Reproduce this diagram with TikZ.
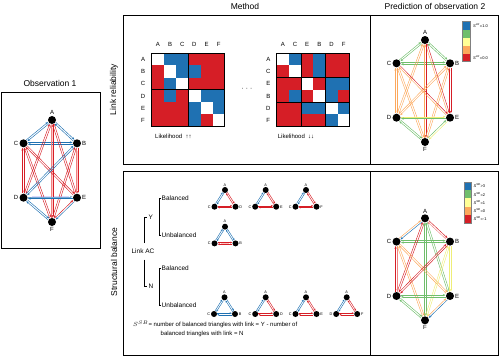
\documentclass[tikz,border=0pt]{standalone}
\usepackage{fontspec}
\setmainfont{Liberation Sans}
\usetikzlibrary{arrows.meta,calc}
\definecolor{cblue}{RGB}{31,113,178}
\definecolor{cred}{RGB}{214,30,38}
\definecolor{cgreen}{RGB}{112,190,108}
\definecolor{cyellow}{RGB}{238,238,120}
\definecolor{fyellow}{RGB}{255,255,150}
\definecolor{corange}{RGB}{252,168,92}
\definecolor{lred}{RGB}{240,130,130}
\definecolor{lblue}{RGB}{120,170,212}
\colorlet{mw}{white}
\colorlet{mb}{cblue}
\colorlet{mr}{cred}
\newcommand\eoff{0.9pt}
\newcommand\nsh{4.4pt}
\newcommand\biedge[4]{%
 \draw[arr,#3] ($(#1.center)!\eoff!90:(#2.center)$) -- ($(#2.center)!\eoff!-90:(#1.center)$);
 \draw[arr,#4] ($(#2.center)!\eoff!90:(#1.center)$) -- ($(#1.center)!\eoff!-90:(#2.center)$);}
\newcommand\graphnodes[3]{%
 \node[dot,label={[glab]above:A}] (#1A) at (#2,#3) {};
 \node[dot,label={[glab]left:C}] (#1C) at (#2-28.5,#3+23.3) {};
 \node[dot,label={[glab]right:B}] (#1B) at (#2+25,#3+23.3) {};
 \node[dot,label={[glab]left:D}] (#1D) at (#2-28.5,#3+77.7) {};
 \node[dot,label={[glab]right:E}] (#1E) at (#2+25,#3+77.7) {};
 \node[dot,label={[glab]below:F}] (#1F) at (#2,#3+102) {};}
\newcommand\trinodes[5]{%
 \node[tdot,label={[tlab]above:A}] (#1A) at (#2,#3) {};
 \node[tdot,label={[tlab]left:#4}] (#1L) at (#2-10.5,#3+16.7) {};
 \node[tdot,label={[tlab]right:#5}] (#1R) at (#2+10.5,#3+16.7) {};}
\newcommand\Sx[1]{{\itshape S}\textsuperscript{\itshape #1}}
\begin{document}
\begin{tikzpicture}[x=1pt,y=-1pt,
 arr/.style={-{Stealth[length=2.8pt,width=2.2pt]},line width=0.45pt,shorten >=\nsh,shorten <=\nsh},
 band/.style={line width=2.8pt,shorten >=4pt,shorten <=4pt},
 dot/.style={circle,fill=black,inner sep=0pt,minimum size=8pt},
 tdot/.style={circle,fill=black,inner sep=0pt,minimum size=6pt},
 glab/.style={font=\fontsize{6}{7}\selectfont,inner sep=0.8pt},
 tlab/.style={font=\fontsize{3.8}{4.5}\selectfont,inner sep=0.5pt},
 title/.style={font=\fontsize{8.5}{10}\selectfont,inner sep=0pt},
 txt/.style={font=\fontsize{6.5}{8}\selectfont,inner sep=0pt},
 mlab/.style={font=\fontsize{6}{7}\selectfont,inner sep=0pt},
 leg/.style={font=\fontsize{4}{5}\selectfont,inner sep=0pt,anchor=west},
 frame/.style={line width=0.9pt},
 brk/.style={line width=0.5pt}]
\useasboundingbox (0,0) rectangle (500,358);
% titles
\node[title] (method) at (245,6) {Method};
\node[title] (pred) at (435,6) {Prediction of observation 2};
\node[title] (obs) at (50,83) {Observation 1};
\node[title,rotate=90] (lr) at (114,89.5) {Link reliability};
\node[title,rotate=90] (sb) at (114,262) {Structural balance};
% frames
\draw[frame] (1.5,92) rectangle (100,248);
\draw[frame] (123,15) rectangle (498,164);
\draw[frame] (370,15) -- (370,164);
\draw[frame] (123,171) rectangle (498,355);
\draw[frame] (370,171) -- (370,355);
% ---------- Observation 1 graph
\begin{scope}
\graphnodes{o}{52}{120}
\draw[band,red!22] (oA) -- (oF);
\draw[band,red!22] (oB) -- (oE);
\draw[band,blue!15] (oD) -- (oE);
\biedge{oA}{oC}{cblue}{cblue}
\biedge{oA}{oB}{cblue}{cblue}
\biedge{oC}{oB}{cblue}{cblue}
\biedge{oA}{oD}{cred}{cred}
\biedge{oA}{oE}{cred}{cred}
\biedge{oA}{oF}{cred}{lred}
\biedge{oC}{oD}{cred}{cred}
\biedge{oC}{oE}{cred}{cred}
\biedge{oC}{oF}{cred}{cred}
\biedge{oB}{oD}{cblue}{cblue}
\biedge{oB}{oE}{cred}{lred}
\biedge{oB}{oF}{cred}{cred}
\biedge{oD}{oE}{lblue}{cblue}
\biedge{oD}{oF}{cblue}{cblue}
\biedge{oE}{oF}{cblue}{cred}
\end{scope}
% ---------- Matrices
\foreach \row [count=\i from 0] in {{mw,mb,mb,mr,mr,mr},{mr,mw,mb,mb,mr,mr},{mr,mb,mw,mr,mr,mr},{mr,mb,mr,mw,mb,mb},{mr,mr,mr,mb,mw,mb},{mr,mr,mr,mb,mr,mw}}
  \foreach \c [count=\j from 0] in \row
    \fill[fill=\c] (151.7+\j*12.2,53.3+\i*12.2) rectangle ++(12.2,12.2);
\draw[line width=1pt] (151.7,53.3) rectangle ++(73.2,73.2);
\draw[line width=1pt] (151.7+36.6,53.3) -- ++(0,73.2);
\draw[line width=1pt] (151.7,53.3+36.6) -- ++(73.2,0);
\foreach \l [count=\j from 0] in {A,B,C,D,E,F} {
  \node[mlab] at (157.8+\j*12.2,44) {\l};
  \node[mlab] at (143,59.4+\j*12.2) {\l};}
\foreach \row [count=\i from 0] in {{mw,mb,mr,mb,mr,mr},{mr,mw,mr,mb,mr,mr},{mr,mr,mw,mr,mb,mb},{mr,mb,mr,mw,mb,mr},{mr,mr,mb,mb,mw,mb},{mr,mr,mr,mr,mb,mw}}
  \foreach \c [count=\j from 0] in \row
    \fill[fill=\c] (276.7+\j*12.2,53.3+\i*12.2) rectangle ++(12.2,12.2);
\draw[line width=1pt] (276.7,53.3) rectangle ++(73.2,73.2);
\foreach \k in {1,2} {
  \draw[line width=1pt] (276.7+\k*24.4,53.3) -- ++(0,73.2);
  \draw[line width=1pt] (276.7,53.3+\k*24.4) -- ++(73.2,0);}
\foreach \l [count=\j from 0] in {A,C,E,B,D,F} {
  \node[mlab] at (282.8+\j*12.2,44) {\l};
  \node[mlab] at (268.3,59.4+\j*12.2) {\l};}
\node[mlab,anchor=west] (lk1) at (155,136) {Likelihood\ \ ↑↑};
\node[mlab,anchor=west] (lk2) at (277.7,136) {Likelihood\ \ ↓↓};
\node[txt] (dots) at (247,89) {·\,\,·\,\,·};
% ---------- Prediction LR graph
\begin{scope}
\graphnodes{p}{425}{40}
\biedge{pA}{pC}{cgreen}{cgreen}
\biedge{pA}{pB}{cgreen}{cgreen}
\biedge{pC}{pB}{cgreen}{cgreen}
\biedge{pA}{pD}{corange}{corange}
\biedge{pA}{pE}{cred}{corange}
\biedge{pA}{pF}{cred}{corange}
\biedge{pC}{pD}{corange}{corange}
\biedge{pC}{pE}{cred}{corange}
\biedge{pC}{pF}{corange}{corange}
\biedge{pB}{pD}{corange}{corange}
\biedge{pB}{pE}{cred}{cred}
\biedge{pB}{pF}{corange}{corange}
\biedge{pD}{pE}{cyellow}{cgreen}
\biedge{pD}{pF}{cgreen}{cgreen}
\biedge{pE}{pF}{cyellow}{cgreen}
\end{scope}
\foreach \c [count=\i from 0] in {cblue,cgreen,fyellow,corange,cred}
  \fill[fill=\c] (462.5,21.7+\i*8) rectangle ++(8,8);
\draw[line width=0.4pt,gray] (462.5,21.7) rectangle ++(8,40);
\node[leg] (l1) at (473,25.7) {\Sx{LR}=1.0};
\node[leg] (l2) at (473,57.7) {\Sx{LR}=0.0};
% ---------- Structural balance graph
\begin{scope}
\graphnodes{s}{425}{218.3}
\biedge{sA}{sC}{cblue}{corange}
\biedge{sA}{sB}{cred}{lred}
\biedge{sC}{sB}{cgreen}{cgreen}
\biedge{sA}{sD}{cred}{cred}
\biedge{sA}{sE}{cgreen}{cgreen}
\biedge{sA}{sF}{cgreen}{cgreen}
\biedge{sC}{sD}{lred}{cred}
\biedge{sC}{sE}{corange}{corange}
\biedge{sC}{sF}{corange}{corange}
\biedge{sB}{sD}{cred}{cred}
\biedge{sB}{sE}{cyellow}{cyellow}
\biedge{sB}{sF}{cyellow}{cyellow}
\biedge{sD}{sE}{cgreen}{cgreen}
\biedge{sD}{sF}{cgreen}{cgreen}
\biedge{sE}{sF}{cblue}{corange}
\end{scope}
\foreach \c [count=\i from 0] in {cblue,cgreen,fyellow,corange,cred}
  \fill[fill=\c] (464,181.7+\i*8.3) rectangle ++(7.5,8.3);
\draw[line width=0.4pt,gray] (464,181.7) rectangle ++(7.5,41.5);
\node[leg] at (473.5,185.8) {\Sx{SB}>3};
\node[leg] at (473.5,194.1) {\Sx{SB}=2};
\node[leg] at (473.5,202.4) {\Sx{SB}=1};
\node[leg] at (473.5,210.7) {\Sx{SB}=0};
\node[leg] at (473.5,219.0) {\Sx{SB}=-1};
% ---------- Structural balance method
\node[txt] (link) at (143,251) {Link AC};
\node[txt,anchor=west] (y) at (148.5,217) {Y};
\node[txt,anchor=west] (n) at (148.5,286.5) {N};
\draw[brk] (144,243) -- (144,217) -- (146.8,217);
\draw[brk] (144,259.5) -- (144,286.5) -- (146.8,286.5);
\draw[brk] (161,198) -- (158.8,198) -- (158.8,235) -- (161,235);
\draw[brk] (161,268) -- (158.8,268) -- (158.8,305) -- (161,305);
\node[txt,anchor=west] (yb) at (161.5,198) {Balanced};
\node[txt,anchor=west] (yu) at (161.5,235) {Unbalanced};
\node[txt,anchor=west] (nb) at (161.5,268) {Balanced};
\node[txt,anchor=west] (nu) at (161.5,305) {Unbalanced};
\begin{scope}
\renewcommand\eoff{0.8pt}
\renewcommand\nsh{3.2pt}
\tikzset{arr/.append style={-{Stealth[length=2.2pt,width=1.8pt]}}}
\trinodes{ta}{225}{190}{C}{D}
\trinodes{tb}{265.7}{190}{C}{E}
\trinodes{tc}{306}{190}{C}{F}
\trinodes{td}{225}{226.7}{C}{B}
\trinodes{te}{224.5}{297.3}{C}{B}
\trinodes{tf}{265.7}{297.3}{C}{D}
\trinodes{tg}{306}{297.3}{C}{E}
\trinodes{th}{346.7}{297.3}{D}{F}
\foreach \t in {ta,tb,tc,tf,tg,th} {
  \biedge{\t A}{\t L}{cblue}{cblue}
  \biedge{\t A}{\t R}{cred}{cred}
  \biedge{\t L}{\t R}{cred}{cred}}
\draw[red!25,line width=3.2pt,shorten >=3pt,shorten <=3pt] (tdL) -- (tdR);
\biedge{tdA}{tdL}{cblue}{cblue}
\biedge{tdA}{tdR}{cblue}{cblue}
\biedge{tdL}{tdR}{cred}{cred}
\biedge{teA}{teL}{cblue}{cblue}
\biedge{teA}{teR}{cblue}{cblue}
\biedge{teL}{teR}{cblue}{cblue}
\end{scope}
\node[mlab,anchor=west] (f1) at (133,324.5) {$S^{SB}$= number of balanced triangles with link = Y - number of};
\node[mlab,anchor=west] (f2) at (160.5,333.5) {balanced triangles with link = N};
\end{tikzpicture}
\end{document}
